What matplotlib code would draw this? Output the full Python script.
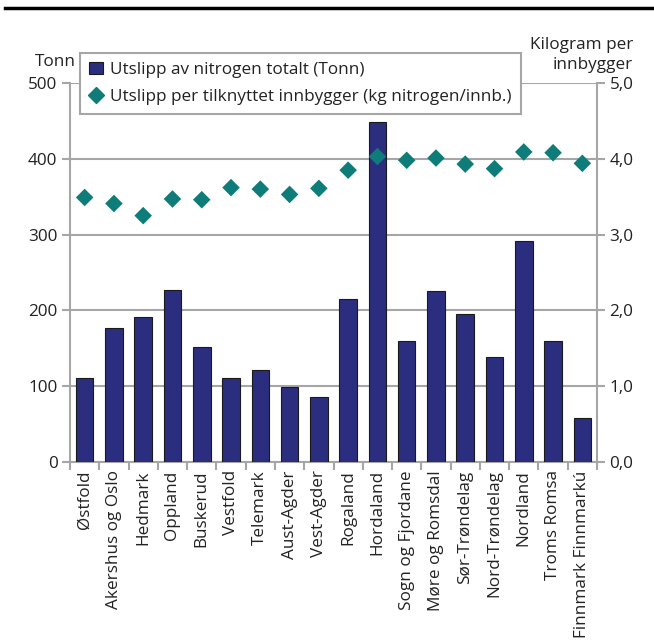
import matplotlib
matplotlib.use("Agg")
import matplotlib.pyplot as plt
from matplotlib.lines import Line2D
from matplotlib.patches import Patch
import numpy as np

plt.rcParams['font.family'] = ['Open Sans', 'DejaVu Sans']

counties = ["Østfold", "Akershus og Oslo", "Hedmark", "Oppland", "Buskerud",
            "Vestfold", "Telemark", "Aust-Agder", "Vest-Agder", "Rogaland",
            "Hordaland", "Sogn og Fjordane", "Møre og Romsdal", "Sør-Trøndelag",
            "Nord-Trøndelag", "Nordland", "Troms Romsa", "Finnmark Finnmarkú"]
total_tonn = [111, 177, 191, 227, 152, 111, 122, 99, 86, 215,
              448, 159, 225, 195, 139, 292, 159, 58]
per_capita_kg = [3.49, 3.41, 3.25, 3.47, 3.46, 3.62, 3.60, 3.53, 3.61, 3.85,
                 4.03, 3.98, 4.01, 3.93, 3.87, 4.09, 4.08, 3.94]
left_ticks = [0, 100, 200, 300, 400, 500]
right_ticks = [0.0, 1.0, 2.0, 3.0, 4.0, 5.0]

bar_color = "#2B2E7E"
marker_color = "#0E7C78"
grid_color = "#A6A6A6"
text_color = "#222222"
fs = 12.3

W, H = 654, 641
fig = plt.figure(figsize=(W / 100, H / 100), dpi=100)
ax = fig.add_axes([70 / W, 1 - 462 / H, (597 - 70) / W, (462 - 83) / H])
ax2 = ax.twinx()

x = np.arange(len(counties))
ax.bar(x, total_tonn, width=0.6, color=bar_color, edgecolor="#1a1a1a",
       linewidth=0.8, zorder=3)
ax.set_xlim(-0.5, len(counties) - 0.5)
ax.set_ylim(0, 500)
ax.set_yticks(left_ticks)
ax.set_yticklabels([str(v) for v in left_ticks])
ax.yaxis.grid(True, color=grid_color, linewidth=1.5, zorder=0)
ax.set_axisbelow(True)

ax2.scatter(x, per_capita_kg, marker="D", s=80, color=marker_color,
            edgecolors="none", zorder=4)
ax2.set_ylim(0, 5)
ax2.set_yticks(right_ticks)
ax2.set_yticklabels([f"{v:.1f}".replace(".", ",") for v in right_ticks])

# category boundaries carry the x ticks
ax.set_xticks(np.arange(-0.5, len(counties) + 0.5, 1.0))
ax.set_xticklabels([])
ax.set_xticks(x, minor=True)
ax.set_xticklabels(counties, minor=True, rotation=90, fontsize=fs,
                   color=text_color, va="top", ha="center")
ax.tick_params(axis="x", which="minor", length=0, pad=6)
ax.tick_params(axis="x", which="major", length=6, width=1.5, color=grid_color)

for a in (ax, ax2):
    for s in a.spines.values():
        s.set_visible(False)
ax.spines["left"].set_visible(True)
ax.spines["bottom"].set_visible(True)
ax2.spines["right"].set_visible(True)
for s in (ax.spines["left"], ax.spines["bottom"], ax2.spines["right"]):
    s.set_color(grid_color)
    s.set_linewidth(1.5)

ax.tick_params(axis="y", length=6, width=1.5, color=grid_color,
               labelsize=fs, labelcolor=text_color, pad=3)
ax2.tick_params(axis="y", length=6, width=1.5, color=grid_color,
                labelsize=fs, labelcolor=text_color, pad=3)

fig.text(55 / W, 1 - 62 / H, "Tonn", ha="center", va="center",
         fontsize=fs, color=text_color)
fig.text(633 / W, 1 - 55 / H, "Kilogram per\ninnbygger", ha="right",
         va="center", fontsize=fs, color=text_color, linespacing=1.35)

handles = [Patch(facecolor=bar_color, edgecolor="#1a1a1a", linewidth=0.8),
           Line2D([], [], marker="D", color=marker_color, linestyle="none",
                  markersize=8.5)]
labels = ["Utslipp av nitrogen totalt (Tonn)",
          "Utslipp per tilknyttet innbygger (kg nitrogen/innb.)"]
leg = ax2.legend(handles, labels, loc="upper left",
                 bbox_to_anchor=(80 / W, 1 - 53 / H), bbox_transform=fig.transFigure,
                 fontsize=fs, frameon=True, fancybox=False, framealpha=1,
                 edgecolor=grid_color, handlelength=0.8, handletextpad=0.4,
                 borderpad=0.55, labelspacing=0.6, borderaxespad=0)
leg.get_frame().set_linewidth(1.5)
for t in leg.get_texts():
    t.set_color(text_color)
leg.set_zorder(10)

# rule across the top of the figure
fig.add_artist(Line2D([5 / W, 1], [1 - 8 / H, 1 - 8 / H], color="black",
                      linewidth=2.5, transform=fig.transFigure))

fig.savefig("out.png", dpi=100)
